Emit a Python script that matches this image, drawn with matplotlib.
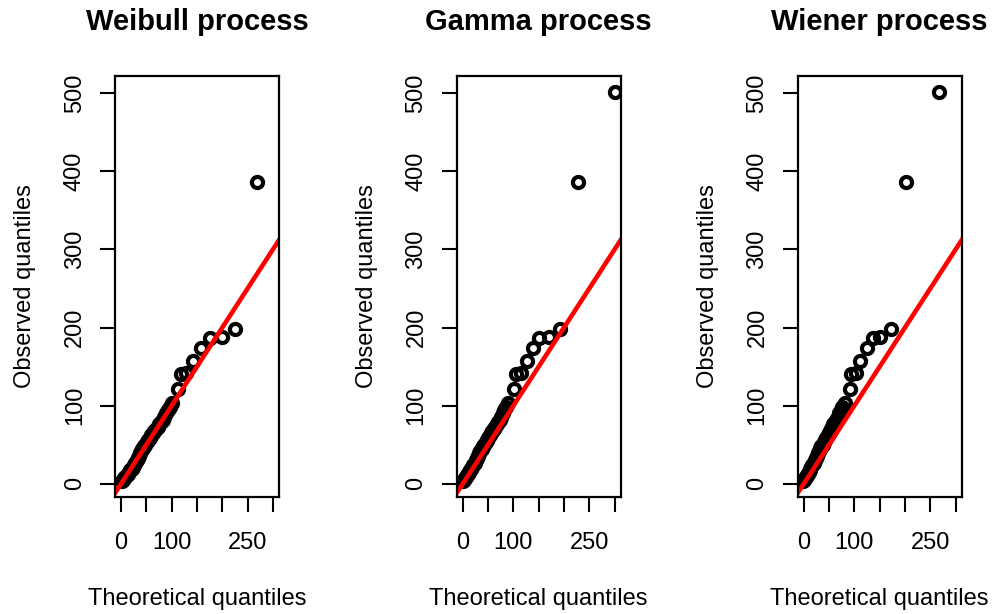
import matplotlib
matplotlib.use("Agg")
import matplotlib.pyplot as plt

# sorted observations shared by all three panels
observed = [3, 5, 7, 9, 11, 13, 15, 17, 19, 21, 24, 27, 30, 33, 36, 39, 42, 45, 46, 48,
            50, 53, 56, 59, 62, 65, 67, 70, 73, 76, 79, 82, 86, 90, 94, 98, 103,
            121, 141, 142, 157, 174, 186, 188, 198, 386, 502]

# theoretical quantiles under each fitted degradation model
weibull_q = [1, 3, 6, 8, 11, 13, 16, 18, 21, 23, 26, 28, 31, 33, 35, 37, 39, 41, 43, 45,
             48, 51, 54, 57, 60, 63, 66, 69, 72, 75, 78, 82, 85, 88, 92, 96, 101,
             113, 118, 128, 143, 158, 176, 199, 226, 269, 335]
gamma_q = [0, 2, 4, 6, 8, 10, 12, 14, 16, 18, 21, 24, 27, 29, 31, 33, 35, 37, 38, 40,
           42, 45, 48, 50, 53, 56, 58, 61, 64, 67, 70, 73, 76, 79, 82, 85, 90,
           101, 105, 115, 127, 138, 151, 170, 193, 227, 300]
wiener_q = [-2, 0, 2, 4, 6, 8, 10, 12, 13, 15, 17, 20, 22, 24, 26, 28, 30, 32, 33, 35,
            37, 39, 42, 44, 47, 49, 51, 53, 56, 58, 61, 64, 67, 70, 73, 76, 81,
            91, 93, 103, 112, 124, 136, 150, 172, 202, 268]

titles = ["Weibull process", "Gamma process", "Wiener process"]
panels = [weibull_q, gamma_q, wiener_q]

plt.rcParams["font.family"] = ["Liberation Sans", "DejaVu Sans"]

W, H = 995, 614
fig = plt.figure(figsize=(W / 100, H / 100), dpi=100)

lefts = [115, 456.7, 797.7]
box_w, box_top, box_bot = 164, 76, 497

ymin, ymax = min(observed), max(observed)
yext = 0.04 * (ymax - ymin)

for left, title, theo in zip(lefts, titles, panels):
    ax = fig.add_axes([left / W, (H - box_bot) / H, box_w / W, (box_bot - box_top) / H])
    ax.plot(theo, observed, "o", ms=8, mfc="none", mec="black", mew=3)
    ax.axline((0, 0), slope=1, color="red", lw=3.3)
    ax.set_xlim(-12, 312)
    ax.set_ylim(ymin - yext, ymax + yext)

    ax.set_xticks(range(0, 301, 50))
    ax.set_xticklabels(["0", "", "100", "", "", "250", ""])
    ax.set_yticks(range(0, 501, 100))
    ax.set_yticklabels([str(v) for v in range(0, 501, 100)], rotation=90, va="center")

    ax.tick_params(direction="out", length=11, width=1.5, labelsize=17)
    ax.tick_params(axis="x", pad=14)
    ax.tick_params(axis="y", pad=10)
    for s in ax.spines.values():
        s.set_linewidth(1.6)

    ax.set_title(title, fontsize=21, fontweight="bold", pad=33)
    ax.set_xlabel("Theoretical quantiles", fontsize=17, labelpad=25)
    ax.set_ylabel("Observed quantiles", fontsize=17, labelpad=20)

fig.savefig("out.png", dpi=100)
